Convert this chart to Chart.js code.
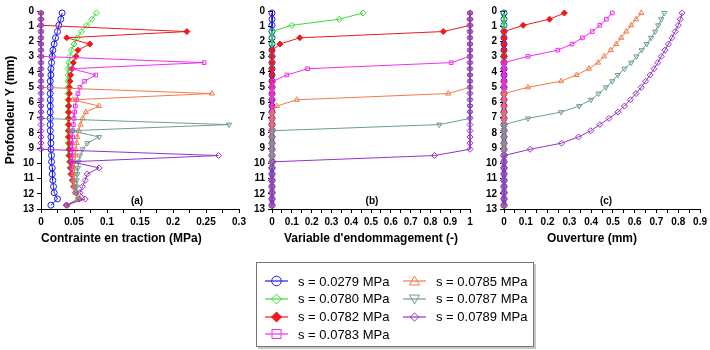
<!DOCTYPE html>
<html>
<head>
<meta charset="utf-8">
<script src="https://cdn.jsdelivr.net/npm/chart.js@4.4.1/dist/chart.umd.min.js"></script>
<style>
  html, body { margin: 0; padding: 0; background: #fff; width: 710px; height: 350px; overflow: hidden;
    font-family: "Liberation Sans", Arial, sans-serif; }
  canvas { position: absolute; top: 0; }
  .tag { position: absolute; font-weight: bold; font-size: 10px; transform: translate(-50%, -50%); }
  #legend { position: absolute; left: 256px; top: 262px; width: 278px; height: 85px; box-sizing: border-box;
    border: 1px solid #777; box-shadow: 2px 2px 0 #c8c8c8; }
  .item { position: absolute; height: 18px; display: flex; align-items: center; font-size: 13px; white-space: nowrap; }
  .item svg { margin-right: 10px; }
</style>
</head>
<body>
<canvas id="pa" width="250" height="250" style="left:0px"></canvas>
<canvas id="pb" width="250" height="250" style="left:235px"></canvas>
<canvas id="pc" width="243" height="250" style="left:467px"></canvas>
<div class="tag" style="left:137px;top:200px">(a)</div>
<div class="tag" style="left:372px;top:200px">(b)</div>
<div class="tag" style="left:606px;top:200px">(c)</div>
<div id="legend"></div>

<script>
// depth of the nodes (mm)
const depth = [0.13, 0.54, 0.94, 1.35, 1.76, 2.17, 2.57, 2.98,
               3.39, 3.79, 4.20, 4.61, 5.01, 5.42, 5.83, 6.24,
               6.64, 7.05, 7.46, 7.86, 8.27, 8.68, 9.08, 9.49,
               9.90, 10.30, 10.71, 11.12, 11.53, 11.93, 12.34, 12.75];

const seriesLabels = ['s = 0.0279 MPa', 's = 0.0780 MPa', 's = 0.0782 MPa', 's = 0.0783 MPa',
                      's = 0.0785 MPa', 's = 0.0787 MPa', 's = 0.0789 MPa'];

const depthTicks = [0, 1, 2, 3, 4, 5, 6, 7, 8, 9, 10, 11, 12, 13];
const stressTicks = [0, 0.05, 0.1, 0.15, 0.2, 0.25, 0.3];
const damageTicks = [0, 0.1, 0.2, 0.3, 0.4, 0.5, 0.6, 0.7, 0.8, 0.9, 1];
const openTicks = [0, 0.1, 0.2, 0.3, 0.4, 0.5, 0.6, 0.7, 0.8, 0.9];

// (a) contrainte en traction (MPa)
const sig0279 = [0.032, 0.030, 0.027, 0.025, 0.022, 0.020, 0.018, 0.017,
                 0.016, 0.015, 0.015, 0.014, 0.014, 0.014, 0.014, 0.014,
                 0.014, 0.014, 0.014, 0.014, 0.015, 0.015, 0.015, 0.016,
                 0.016, 0.017, 0.017, 0.018, 0.019, 0.020, 0.025, 0.015];
const sig0780 = [0.084, 0.077, 0.069, 0.061, 0.055, 0.050, 0.046, 0.044,
                 0.042, 0.041, 0.041, 0.041, 0.041, 0.041, 0.041, 0.041,
                 0.041, 0.041, 0.041, 0.041, 0.041, 0.041, 0.042, 0.042,
                 0.043, 0.044, 0.045, 0.047, 0.049, 0.052, 0.057, 0.039];
const sig0782 = [0, 0, 0, 0.221, 0.039, 0.074, 0.056, 0.053,
                 0.049, 0.047, 0.045, 0.044, 0.043, 0.043, 0.042, 0.042,
                 0.042, 0.042, 0.042, 0.042, 0.042, 0.043, 0.043, 0.043,
                 0.044, 0.045, 0.046, 0.048, 0.050, 0.053, 0.058, 0.039];
const sig0783 = [0, 0, 0, 0, 0, 0, 0, 0,
                 0.247, 0.047, 0.083, 0.066, 0.059, 0.056, 0.054, 0.052,
                 0.051, 0.050, 0.049, 0.048, 0.048, 0.047, 0.047, 0.047,
                 0.047, 0.047, 0.048, 0.049, 0.050, 0.052, 0.057, 0.039];
const sig0785 = [0, 0, 0, 0, 0, 0, 0, 0,
                 0, 0, 0, 0, 0, 0.259, 0.048, 0.088,
                 0.068, 0.063, 0.060, 0.057, 0.055, 0.054, 0.053, 0.052,
                 0.051, 0.050, 0.050, 0.050, 0.051, 0.052, 0.056, 0.040];
const sig0787 = [0, 0, 0, 0, 0, 0, 0, 0,
                 0, 0, 0, 0, 0, 0, 0, 0,
                 0, 0, 0.285, 0.045, 0.088, 0.070, 0.063, 0.059,
                 0.057, 0.056, 0.055, 0.054, 0.054, 0.054, 0.056, 0.041];
const sig0789 = [0, 0, 0, 0, 0, 0, 0, 0,
                 0, 0, 0, 0, 0, 0, 0, 0,
                 0, 0, 0, 0, 0, 0, 0, 0.269,
                 0.046, 0.088, 0.070, 0.067, 0.063, 0.059, 0.067, 0.038];

// (b) variable d'endommagement (-)
const dmg0279 = [0, 0, 0, 0, 0, 0, 0, 0, 0, 0, 0, 0, 0, 0, 0, 0,
                 0, 0, 0, 0, 0, 0, 0, 0, 0, 0, 0, 0, 0, 0, 0, 0];
const dmg0780 = [0.46, 0.34, 0.10, 0, 0, 0, 0, 0, 0, 0, 0, 0, 0, 0, 0, 0,
                 0, 0, 0, 0, 0, 0, 0, 0, 0, 0, 0, 0, 0, 0, 0, 0];
const dmg0782 = [1, 1, 1, 0.865, 0.14, 0.04, 0, 0, 0, 0, 0, 0, 0, 0, 0, 0,
                 0, 0, 0, 0, 0, 0, 0, 0, 0, 0, 0, 0, 0, 0, 0, 0];
const dmg0783 = [1, 1, 1, 1, 1, 1, 1, 1, 0.905, 0.18, 0.075, 0.006, 0, 0, 0, 0,
                 0, 0, 0, 0, 0, 0, 0, 0, 0, 0, 0, 0, 0, 0, 0, 0];
const dmg0785 = [1, 1, 1, 1, 1, 1, 1, 1, 1, 1, 1, 1, 1, 0.89, 0.125, 0.025,
                 0, 0, 0, 0, 0, 0, 0, 0, 0, 0, 0, 0, 0, 0, 0, 0];
const dmg0787 = [1, 1, 1, 1, 1, 1, 1, 1, 1, 1, 1, 1, 1, 1, 1, 1,
                 1, 1, 0.845, 0.006, 0, 0, 0, 0, 0, 0, 0, 0, 0, 0, 0, 0];
const dmg0789 = [1, 1, 1, 1, 1, 1, 1, 1, 1, 1, 1, 1, 1, 1, 1, 1,
                 1, 1, 1, 1, 1, 1, 1, 0.82, 0.006, 0, 0, 0, 0, 0, 0, 0];

// (c) ouverture (mm)
const ouv0279 = [0, 0, 0, 0, 0, 0, 0, 0, 0, 0, 0, 0, 0, 0, 0, 0,
                 0, 0, 0, 0, 0, 0, 0, 0, 0, 0, 0, 0, 0, 0, 0, 0];
const ouv0780 = [0, 0, 0, 0, 0, 0, 0, 0, 0, 0, 0, 0, 0, 0, 0, 0,
                 0, 0, 0, 0, 0, 0, 0, 0, 0, 0, 0, 0, 0, 0, 0, 0];
const ouv0782 = [0.277, 0.209, 0.088, 0, 0, 0, 0, 0, 0, 0, 0, 0, 0, 0, 0, 0,
                 0, 0, 0, 0, 0, 0, 0, 0, 0, 0, 0, 0, 0, 0, 0, 0];
const ouv0783 = [0.497, 0.47, 0.44, 0.405, 0.36, 0.312, 0.247, 0.11, 0, 0, 0, 0, 0, 0, 0, 0,
                 0, 0, 0, 0, 0, 0, 0, 0, 0, 0, 0, 0, 0, 0, 0, 0];
const ouv0785 = [0.63, 0.606, 0.584, 0.561, 0.538, 0.515, 0.49, 0.46,
                 0.432, 0.39, 0.333, 0.262, 0.11, 0, 0, 0,
                 0, 0, 0, 0, 0, 0, 0, 0, 0, 0, 0, 0, 0, 0, 0, 0];
const ouv0787 = [0.736, 0.722, 0.708, 0.694, 0.675, 0.655, 0.632, 0.608,
                 0.584, 0.553, 0.522, 0.497, 0.468, 0.434, 0.399, 0.345,
                 0.262, 0.11, 0, 0, 0, 0, 0, 0, 0, 0, 0, 0, 0, 0, 0, 0];
const ouv0789 = [0.818, 0.809, 0.80, 0.786, 0.771, 0.755, 0.739, 0.722,
                 0.706, 0.689, 0.671, 0.65, 0.63, 0.606, 0.58, 0.553,
                 0.523, 0.482, 0.44, 0.398, 0.342, 0.264, 0.12, 0,
                 0, 0, 0, 0, 0, 0, 0, 0];

// series styles: blue, green, red, magenta, orange, teal, purple
const COLORS = ['#1c1cf0', '#3cdc3c', '#f01818', '#f030f0', '#f07a4c', '#6f9d92', '#9632c8'];
const SHAPES = ['circle', 'rectRot', 'rectRot', 'rect', 'triangle', 'triangle', 'rectRot'];
const ROT = [0, 0, 0, 0, 0, 180, 0];
const FILLED = [false, false, true, false, false, false, false];

const FONT = "'Liberation Sans', Arial, sans-serif";

function withMinor(major) {
  const out = [];
  major.forEach((v, i) => {
    out.push({ value: v, major: true });
    if (i < major.length - 1) out.push({ value: (v + major[i + 1]) / 2, major: false });
  });
  return out;
}

function makePanel(id, arrays, xTicks, opts) {
  const datasets = arrays.map((arr, k) => ({
    label: seriesLabels[k],
    data: arr.map((v, i) => ({ x: v, y: depth[i] })),
    showLine: true,
    borderColor: COLORS[k],
    backgroundColor: FILLED[k] ? COLORS[k] : 'rgba(255,255,255,0)',
    borderWidth: 1,
    pointStyle: SHAPES[k],
    rotation: ROT[k],
    pointRadius: SHAPES[k] === 'rect' ? 2.6 : 3,
    pointBorderWidth: 1,
    pointHoverRadius: 3,
    clip: false,
    order: 7 - k
  }));

  return new Chart(document.getElementById(id), {
    type: 'scatter',
    data: { datasets },
    options: {
      responsive: false, animation: false, events: [],
      layout: { padding: { top: 11, right: opts.padRight, bottom: 0, left: 0 } },
      plugins: { legend: { display: false }, tooltip: { enabled: false } },
      scales: {
        x: {
          type: 'linear', min: 0, max: xTicks[xTicks.length - 1],
          afterBuildTicks: (s) => { s.ticks = withMinor(xTicks); },
          afterFit: (s) => { s.height = 41; },
          ticks: {
            autoSkip: false, maxRotation: 0, padding: 3, color: '#000',
            font: { family: FONT, size: 10, weight: 'bold' },
            callback: (v, i) => (i % 2 === 0 ? String(xTicks[i / 2]) : '')
          },
          grid: { drawOnChartArea: false, drawTicks: true, tickLength: 4, tickColor: '#000' },
          border: { display: true, color: '#000', width: 1 },
          title: {
            display: true, text: opts.xTitle, color: '#000', align: opts.titleAlign || 'center',
            font: { family: FONT, size: 12, weight: 'bold' }, padding: { top: 0, bottom: 4 }
          }
        },
        y: {
          type: 'linear', min: 0, max: 13, reverse: true,
          afterBuildTicks: (s) => { s.ticks = depthTicks.map(v => ({ value: v })); },
          afterFit: (s) => { s.width = opts.yWidth; },
          ticks: { padding: 3, color: '#000', font: { family: FONT, size: 10, weight: 'bold' } },
          grid: { drawOnChartArea: false, drawTicks: true, tickLength: 4, tickColor: '#000' },
          border: { display: true, color: '#000', width: 1 },
          title: {
            display: !!opts.yTitle, text: opts.yTitle || '', color: '#000',
            font: { family: FONT, size: 12, weight: 'bold' }, padding: { top: 3, bottom: 0 }
          }
        }
      }
    }
  });
}

makePanel('pa', [sig0279, sig0780, sig0782, sig0783, sig0785, sig0787, sig0789], stressTicks,
  { xTitle: 'Contrainte en traction (MPa)', yTitle: 'Profondeur Y (mm)', yWidth: 41, padRight: 11,
    titleAlign: 'start' });
makePanel('pb', [dmg0279, dmg0780, dmg0782, dmg0783, dmg0785, dmg0787, dmg0789], damageTicks,
  { xTitle: "Variable d'endommagement (-)", yWidth: 37, padRight: 15 });
makePanel('pc', [ouv0279, ouv0780, ouv0782, ouv0783, ouv0785, ouv0787, ouv0789], openTicks,
  { xTitle: 'Ouverture (mm)      ', yWidth: 37, padRight: 8 });

// legend (two columns, filled column by column)
function icon(k) {
  const c = COLORS[k];
  const f = FILLED[k] ? c : 'none';
  let m;
  if (SHAPES[k] === 'circle') m = `<circle cx="11.5" cy="7" r="4.8" fill="${f}" stroke="${c}"/>`;
  else if (SHAPES[k] === 'rect') m = `<rect x="7" y="2.5" width="9" height="9" fill="${f}" stroke="${c}"/>`;
  else if (SHAPES[k] === 'triangle' && ROT[k] === 0) m = `<polygon points="11.5,2 16.5,11 6.5,11" fill="${f}" stroke="${c}"/>`;
  else if (SHAPES[k] === 'triangle') m = `<polygon points="6.5,3 16.5,3 11.5,12" fill="${f}" stroke="${c}"/>`;
  else {
    const r = k === 6 ? 4.2 : 5;
    m = `<polygon points="11.5,${7 - r} ${11.5 + r},7 11.5,${7 + r} ${11.5 - r},7" fill="${f}" stroke="${c}"/>`;
  }
  return `<svg width="23" height="14"><line x1="0" y1="7" x2="23" y2="7" stroke="${c}" stroke-width="1.2"/>${m}</svg>`;
}
const legend = document.getElementById('legend');
seriesLabels.forEach((lab, k) => {
  const col = k < 4 ? 0 : 1;
  const row = k < 4 ? k : k - 4;
  const d = document.createElement('div');
  d.className = 'item';
  d.style.left = (col === 0 ? 8 : 146) + 'px';
  d.style.top = (9 + row * 17.8) + 'px';
  d.innerHTML = icon(k) + '<span>' + lab + '</span>';
  legend.appendChild(d);
});
</script>
</body>
</html>
